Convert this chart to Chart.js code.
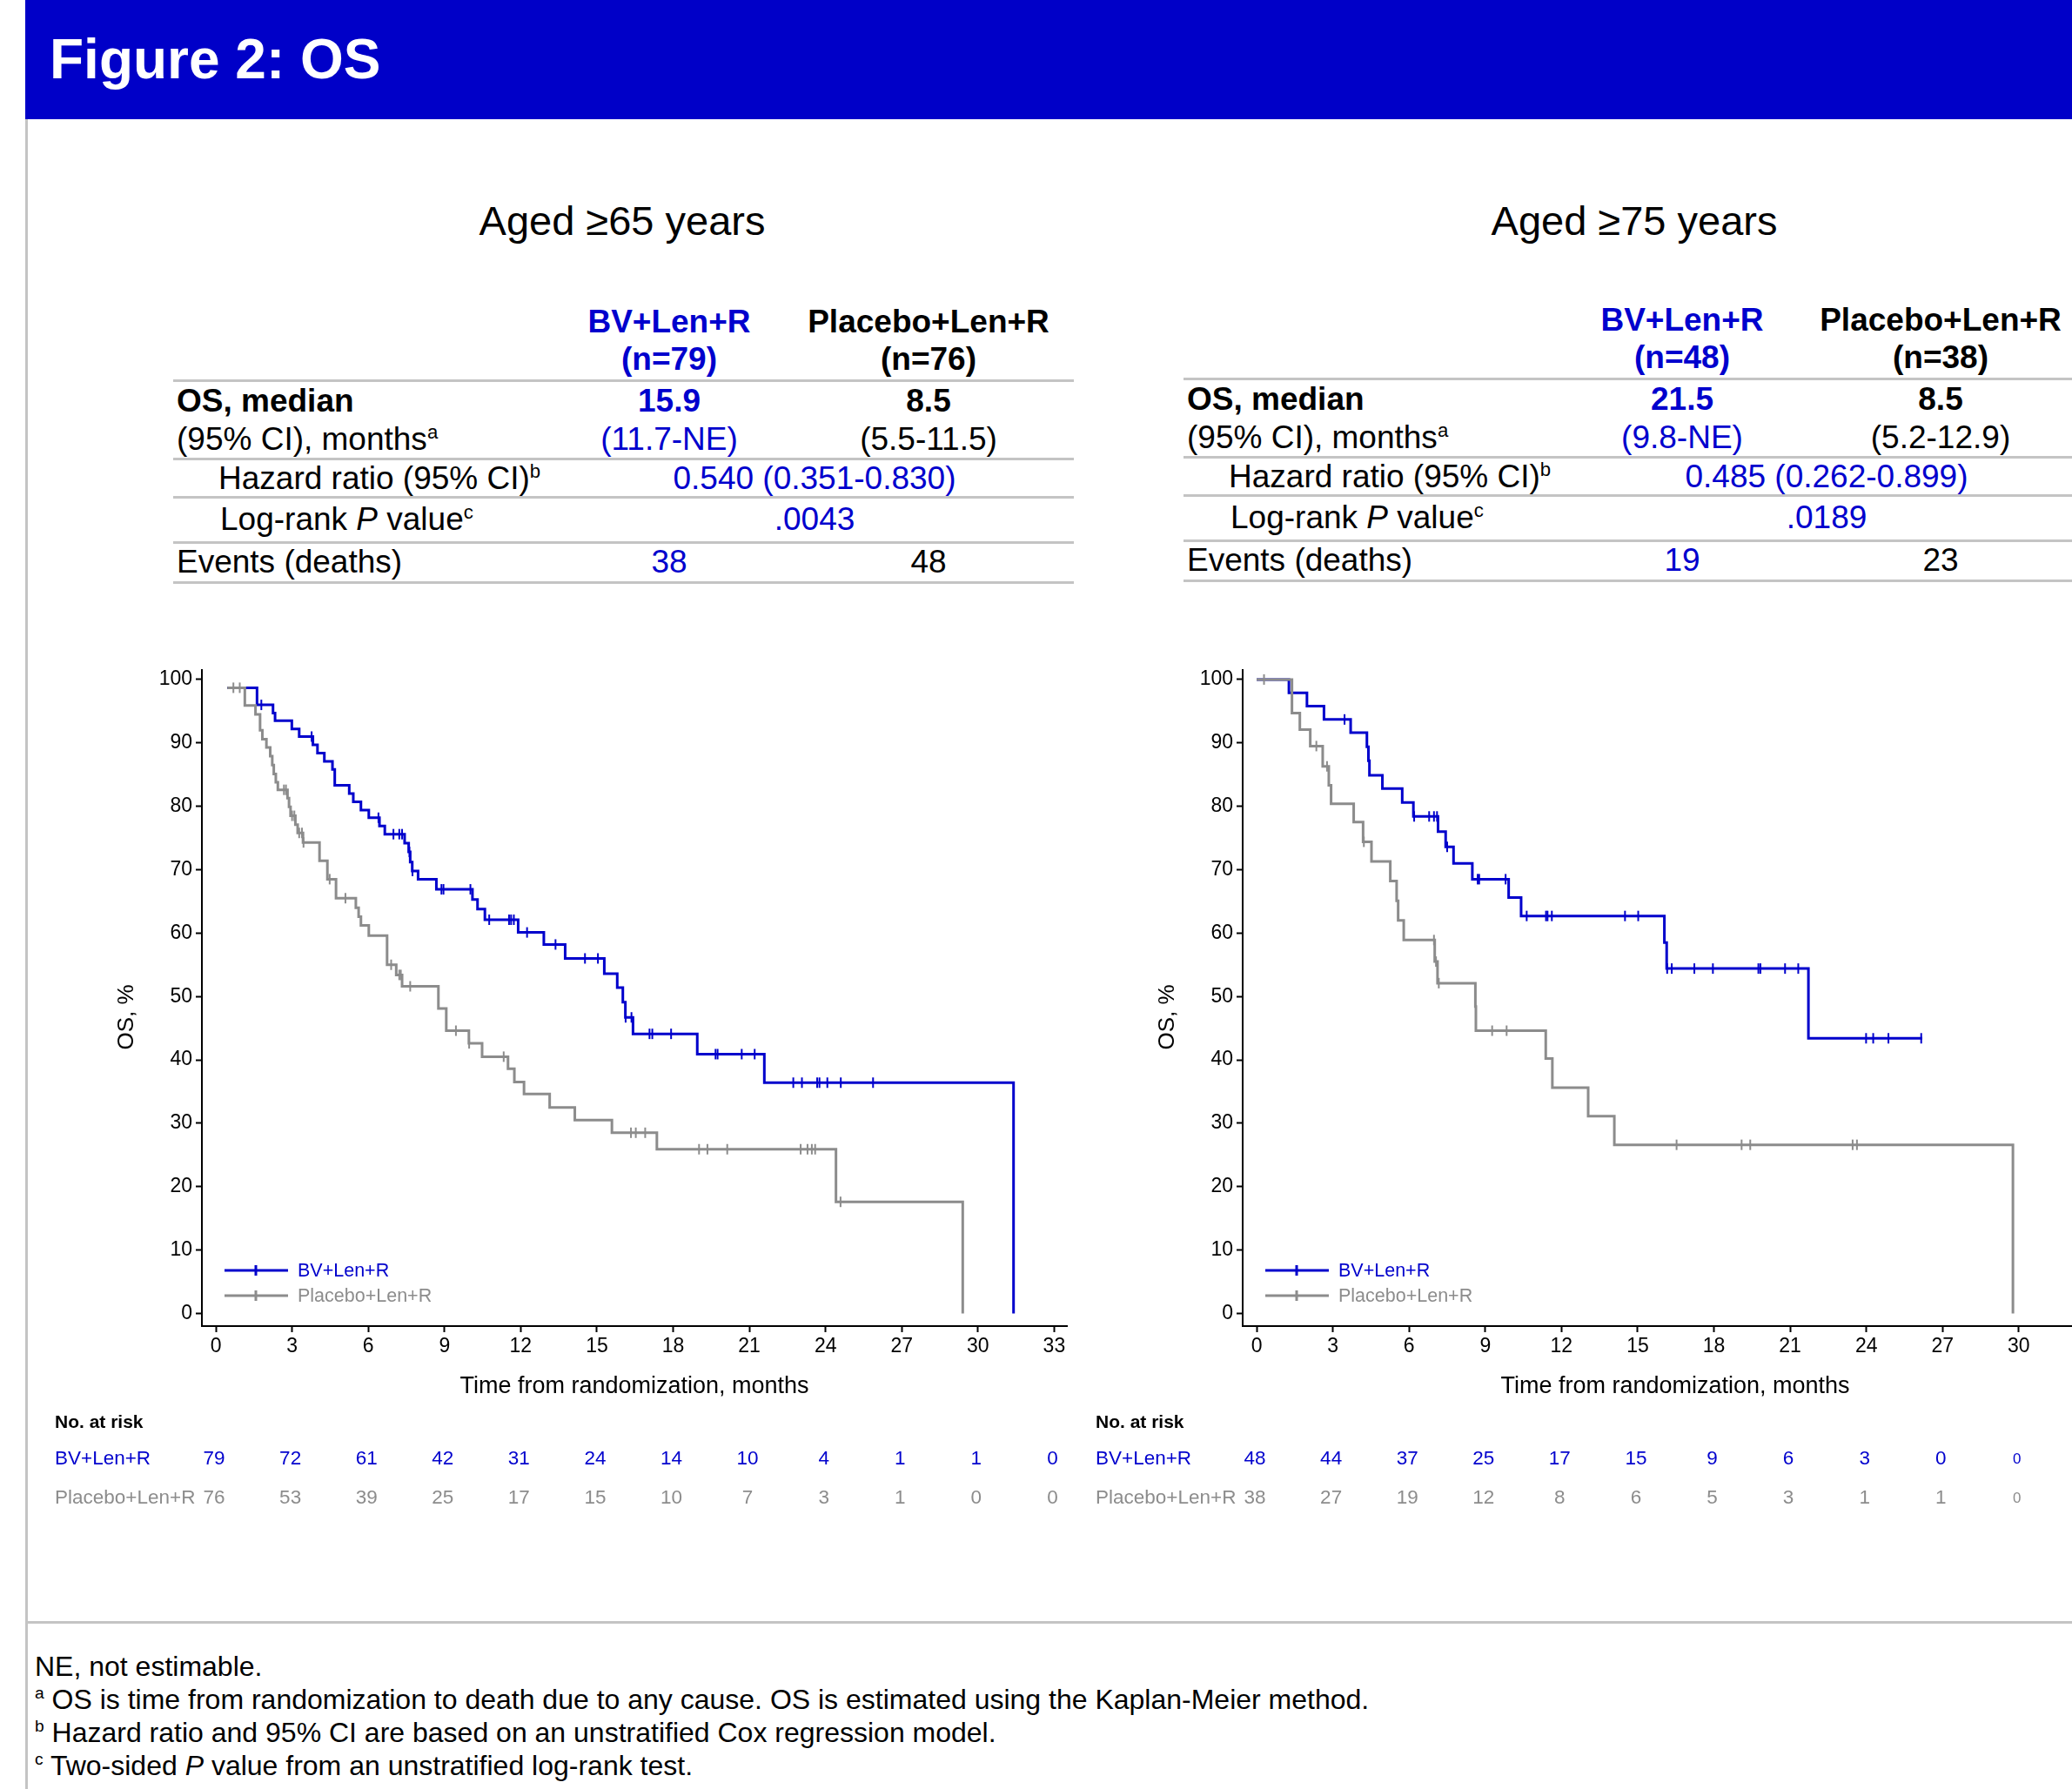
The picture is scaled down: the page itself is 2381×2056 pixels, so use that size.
<!DOCTYPE html>
<html>
<head>
<meta charset="utf-8">
<script src="https://cdn.jsdelivr.net/npm/chart.js@4.4.1/dist/chart.umd.min.js"></script>
<style>
html, body { margin: 0; padding: 0; overflow: hidden; background: #fff; }
body { width: 2381px; height: 2056px; position: relative; font-family: 'Liberation Sans', Arial, sans-serif; color: #000; }
.t { position: absolute; white-space: nowrap; line-height: 1; }
sup { font-size: 60%; vertical-align: 0.6em; line-height: 0; }
.rule { position: absolute; background: #c4c4c4; }
canvas { position: absolute; }
</style>
</head>
<body>
<div style="position:absolute;left:29px;top:0;width:2352px;height:137px;background:#0000c8"></div>
<div class="rule" style="left:29px;top:137px;width:3px;height:1919px"></div>
<div class="rule" style="left:29px;top:1863px;width:2352px;height:3px"></div>
<canvas id="c65" width="1200" height="1080" style="left:39px;top:740px"></canvas>
<canvas id="c75" width="1200" height="1080" style="left:1235px;top:740px"></canvas>
<script>
// axis ticks
const xTicks = [0, 3, 6, 9, 12, 15, 18, 21, 24, 27, 30, 33];
const yTicks = [0, 10, 20, 30, 40, 50, 60, 70, 80, 90, 100];
const riskTicks65 = [0, 3, 6, 9, 12, 15, 18, 21, 24, 27, 30, 33];
const riskTicks75 = [0, 3, 6, 9, 12, 15, 18, 21, 24, 27, 30];

// Aged >=65, BV+Len+R : step times (months) and OS % after each step
const bv65Time = [0.45, 1.62, 2.25, 2.33, 2.99, 3.28, 3.82, 4.0, 4.27, 4.59, 4.68, 5.25, 5.41, 5.71, 6.02, 6.44, 6.65, 7.43, 7.59, 7.65, 7.73, 7.96, 8.68, 10.1, 10.3, 10.59, 11.9, 12.91, 13.75, 15.29, 15.8, 16.02, 16.12, 16.42, 18.95, 21.59, 31.4];
const bv65Surv = [98.7, 96.0, 94.7, 93.5, 92.2, 91.0, 89.7, 88.4, 87.1, 85.8, 83.3, 82.0, 80.7, 79.4, 78.2, 76.9, 75.6, 74.2, 72.8, 71.2, 69.8, 68.5, 66.9, 65.3, 63.8, 62.1, 60.1, 58.2, 56.0, 53.6, 51.4, 49.1, 46.7, 44.1, 40.9, 36.4, 0];
const bv65Cens = [1.79, 3.77, 6.40, 6.99, 7.22, 7.33, 7.62, 7.74, 8.88, 8.96, 10.02, 10.76, 11.54, 11.62, 11.73, 12.25, 13.37, 14.53, 15.04, 16.13, 16.36, 17.07, 17.18, 17.92, 19.67, 19.75, 20.7, 21.21, 22.73, 23.07, 23.67, 23.76, 24.07, 24.6, 25.87];

// Aged >=65, Placebo+Len+R
const pl65Time = [0.45, 1.14, 1.56, 1.74, 1.83, 1.99, 2.14, 2.22, 2.28, 2.36, 2.44, 2.82, 2.88, 2.94, 3.13, 3.22, 3.43, 4.08, 4.39, 4.73, 5.51, 5.62, 5.71, 6.02, 6.74, 7.1, 7.33, 8.76, 9.07, 9.96, 10.48, 11.5, 11.75, 12.13, 13.14, 14.13, 15.59, 17.36, 24.41, 29.4];
const pl65Surv = [98.7, 95.9, 94.5, 92.0, 90.6, 89.3, 87.9, 86.5, 85.1, 83.8, 82.6, 81.3, 79.9, 78.5, 77.1, 75.8, 74.3, 71.4, 68.5, 65.5, 64.0, 62.6, 61.2, 59.6, 55.0, 53.4, 51.6, 48.1, 44.6, 42.6, 40.5, 38.6, 36.5, 34.6, 32.5, 30.5, 28.5, 25.9, 17.6, 0];
const pl65Cens = [0.69, 0.94, 2.68, 2.76, 3.0, 3.09, 3.28, 3.39, 3.45, 4.48, 5.1, 6.9, 7.22, 7.28, 7.65, 9.45, 9.97, 11.33, 16.34, 16.53, 16.9, 19.02, 19.35, 20.13, 23.02, 23.29, 23.46, 23.59, 24.59];

// Aged >=75, BV+Len+R
const bv75Time = [0, 1.27, 1.98, 2.65, 3.70, 4.34, 4.40, 4.44, 4.95, 5.73, 6.17, 7.14, 7.44, 7.75, 8.49, 9.92, 10.41, 16.05, 16.14, 21.72, 26.2];
const bv75Surv = [100, 97.9, 95.8, 93.7, 91.6, 89.4, 87.2, 84.9, 82.8, 80.6, 78.4, 76.0, 73.6, 71.0, 68.5, 65.6, 62.7, 58.5, 54.4, 43.4, 43.4];
const bv75Cens = [3.46, 6.2, 6.79, 6.98, 7.1, 7.5, 8.7, 8.76, 9.8, 10.63, 11.39, 11.45, 11.62, 14.5, 15.02, 16.16, 16.34, 17.23, 17.96, 19.75, 19.83, 20.8, 21.32, 23.99, 24.27, 24.87, 26.16];

// Aged >=75, Placebo+Len+R
const pl75Time = [0, 1.39, 1.70, 2.11, 2.60, 2.84, 2.93, 3.82, 4.19, 4.52, 5.26, 5.51, 5.57, 5.79, 7.01, 7.12, 8.61, 8.63, 11.38, 11.64, 13.05, 14.08, 29.77];
const pl75Surv = [100, 94.7, 92.1, 89.5, 86.3, 83.3, 80.4, 77.5, 74.4, 71.3, 68.2, 65.1, 62.0, 58.9, 55.5, 52.1, 48.4, 44.6, 40.2, 35.6, 31.1, 26.6, 0];
const pl75Cens = [0.29, 2.35, 2.77, 4.22, 6.98, 7.06, 7.17, 9.27, 9.84, 16.53, 19.09, 19.43, 23.46, 23.63];

// number at risk
const bv65Risk = [79, 72, 61, 42, 31, 24, 14, 10, 4, 1, 1, 0];
const pl65Risk = [76, 53, 39, 25, 17, 15, 10, 7, 3, 1, 0, 0];
const bv75Risk = [48, 44, 37, 25, 17, 15, 9, 6, 3, 0, 0];
const pl75Risk = [38, 27, 19, 12, 8, 6, 5, 3, 1, 1, 0];

// summary tables
const arms = ['BV+Len+R', 'Placebo+Len+R'];
const n65 = [79, 76];
const median65 = ['15.9', '8.5'];
const ci65 = ['(11.7-NE)', '(5.5-11.5)'];
const hr65 = '0.540 (0.351-0.830)';
const p65 = '.0043';
const events65 = [38, 48];
const n75 = [48, 38];
const median75 = ['21.5', '8.5'];
const ci75 = ['(9.8-NE)', '(5.2-12.9)'];
const hr75 = '0.485 (0.262-0.899)';
const p75 = '.0189';
const events75 = [19, 23];

const FONT = "'Liberation Sans', Arial, sans-serif";
const BLUE = '#0000cc';
const GRAY = '#8c8c8c';
const TXTBLUE = '#0000cd';

function txt(x, base, html, size, opt) {
  opt = opt || {};
  const d = document.createElement('div');
  d.className = 't';
  d.innerHTML = html;
  d.style.fontSize = size + 'px';
  d.style.left = x + 'px';
  d.style.top = (base - 0.8465 * size) + 'px';
  if (opt.bold) d.style.fontWeight = 'bold';
  if (opt.color) d.style.color = opt.color;
  if (opt.align === 'center') d.style.transform = 'translateX(-50%)';
  if (opt.align === 'right') d.style.transform = 'translateX(-100%)';
  document.body.appendChild(d);
}
function rule(x1, x2, y) {
  const d = document.createElement('div');
  d.className = 'rule';
  d.style.left = x1 + 'px'; d.style.width = (x2 - x1) + 'px';
  d.style.top = (y - 1.5) + 'px'; d.style.height = '3px';
  document.body.appendChild(d);
}

txt(57, 90, 'Figure 2: OS', 64, {bold: true, color: '#fff'});

function buildTable(t) {
  const fs = 37, dy = t.dy;
  txt(t.title[0], 270, t.title[1], 47, {align: 'center'});
  txt(t.c1, 382 + dy, arms[0], fs, {bold: true, color: TXTBLUE, align: 'center'});
  txt(t.c2, 382 + dy, arms[1], fs, {bold: true, align: 'center'});
  txt(t.c1, 425 + dy, '(n=' + t.n[0] + ')', fs, {bold: true, color: TXTBLUE, align: 'center'});
  txt(t.c2, 425 + dy, '(n=' + t.n[1] + ')', fs, {bold: true, align: 'center'});
  rule(t.l1, t.l2, 437 + dy);
  txt(t.lx, 473 + dy, 'OS, median', fs, {bold: true});
  txt(t.c1, 473 + dy, t.median[0], fs, {bold: true, color: TXTBLUE, align: 'center'});
  txt(t.c2, 473 + dy, t.median[1], fs, {bold: true, align: 'center'});
  txt(t.lx, 517 + dy, '(95% CI), months<sup>a</sup>', fs);
  txt(t.c1, 517 + dy, t.ci[0], fs, {color: TXTBLUE, align: 'center'});
  txt(t.c2, 517 + dy, t.ci[1], fs, {align: 'center'});
  rule(t.l1, t.l2, 527 + dy);
  txt(t.lx + 48, 562 + dy, 'Hazard ratio (95% CI)<sup>b</sup>', fs);
  txt(t.hc, 562 + dy, t.hr, fs, {color: TXTBLUE, align: 'center'});
  rule(t.l1, t.l2, 571 + dy);
  txt(t.lx + 50, 609 + dy, 'Log-rank <i>P</i> value<sup>c</sup>', fs);
  txt(t.hc, 609 + dy, t.p, fs, {color: TXTBLUE, align: 'center'});
  rule(t.l1, t.l2, 623 + dy);
  txt(t.lx, 658 + dy, 'Events (deaths)', fs);
  txt(t.c1, 658 + dy, String(t.events[0]), fs, {color: TXTBLUE, align: 'center'});
  txt(t.c2, 658 + dy, String(t.events[1]), fs, {align: 'center'});
  rule(t.l1, t.l2, 669 + dy);
}
buildTable({title: [715, 'Aged ≥65 years'], dy: 0, lx: 203, c1: 769, c2: 1067, hc: 936, l1: 199, l2: 1234,
  n: n65, median: median65, ci: ci65, hr: hr65, p: p65, events: events65});
buildTable({title: [1878, 'Aged ≥75 years'], dy: -2, lx: 1364, c1: 1933, c2: 2230, hc: 2099, l1: 1360, l2: 2381,
  n: n75, median: median75, ci: ci75, hr: hr75, p: p75, events: events75});

txt(40, 1926, 'NE, not estimable.', 32);
txt(40, 1964, '<sup>a</sup> OS is time from randomization to death due to any cause. OS is estimated using the Kaplan-Meier method.', 32);
txt(40, 2002, '<sup>b</sup> Hazard ratio and 95% CI are based on an unstratified Cox regression model.', 32);
txt(40, 2040, '<sup>c</sup> Two-sided <i>P</i> value from an unstratified log-rank test.', 32);

function stepPoints(times, surv) {
  return times.map((t, i) => ({x: t, y: surv[i]}));
}
function censorPoints(cens, times, surv) {
  return cens.map(c => {
    let v = surv[0];
    for (let i = 0; i < times.length; i++) if (times[i] <= c) v = surv[i];
    return {x: c, y: v};
  });
}

function makeExtras(cfg) {
  return {
    id: 'kmExtras',
    afterDraw(chart) {
      const ctx = chart.ctx, a = chart.chartArea, xs = chart.scales.x;
      ctx.save();
      ctx.fillStyle = '#000';
      ctx.font = '26px ' + FONT;
      ctx.textAlign = 'center';
      ctx.textBaseline = 'middle';
      ctx.translate(a.left - 86, a.top + 399);
      ctx.rotate(-Math.PI / 2);
      ctx.fillText('OS, %', 0, 0);
      ctx.restore();

      // legend inside the plot
      ctx.save();
      const items = [[arms[0], BLUE, 64], [arms[1], GRAY, 35]];
      items.forEach(([label, col, off]) => {
        const y = a.bottom - off;
        ctx.strokeStyle = col;
        ctx.lineWidth = 3;
        ctx.beginPath();
        ctx.moveTo(a.left + 26, y); ctx.lineTo(a.left + 99, y);
        ctx.moveTo(a.left + 62, y - 6); ctx.lineTo(a.left + 62, y + 6);
        ctx.stroke();
        ctx.fillStyle = col;
        ctx.font = '21.5px ' + FONT;
        ctx.textAlign = 'left';
        ctx.textBaseline = 'middle';
        ctx.fillText(label, a.left + 110, y + 1);
      });
      ctx.restore();

      // number at risk
      ctx.save();
      ctx.textBaseline = 'middle';
      ctx.textAlign = 'left';
      ctx.fillStyle = '#000';
      ctx.font = 'bold 21px ' + FONT;
      ctx.fillText('No. at risk', 24, 895);
      const rows = [[arms[0], cfg.risk[0], TXTBLUE, 937], [arms[1], cfg.risk[1], GRAY, 982]];
      rows.forEach(([label, vals, col, y]) => {
        ctx.fillStyle = col;
        ctx.textAlign = 'left';
        ctx.font = '22.5px ' + FONT;
        ctx.fillText(label, 24, y);
        ctx.textAlign = 'center';
        vals.forEach((v, i) => {
          const small = cfg.smallLast && i === vals.length - 1;
          ctx.font = (small ? '17px ' : '22.5px ') + FONT;
          ctx.fillText(String(v), xs.getPixelForValue(cfg.riskTicks[i]) - 2, y);
        });
      });
      ctx.restore();
    }
  };
}

function makeChart(id, cfg) {
  const axisCommon = {
    type: 'linear',
    grid: { drawOnChartArea: false, drawTicks: true, tickLength: 7, tickWidth: 2, tickColor: '#000', color: '#000' },
    border: { display: true, color: '#000', width: 2 },
  };
  return new Chart(document.getElementById(id), {
    type: 'line',
    data: {
      datasets: [
        { data: censorPoints(cfg.pl[2], cfg.pl[0], cfg.pl[1]), showLine: false, pointStyle: 'line', rotation: 90,
          pointRadius: 6, pointBorderWidth: 2, borderColor: GRAY, pointBorderColor: GRAY, order: 0 },
        { data: stepPoints(cfg.pl[0], cfg.pl[1]), stepped: 'before', borderColor: GRAY, borderWidth: 3,
          pointRadius: 0, fill: false, order: 1 },
        { data: censorPoints(cfg.bv[2], cfg.bv[0], cfg.bv[1]), showLine: false, pointStyle: 'line', rotation: 90,
          pointRadius: 6, pointBorderWidth: 2, borderColor: BLUE, pointBorderColor: BLUE, order: 2 },
        { data: stepPoints(cfg.bv[0], cfg.bv[1]), stepped: 'before', borderColor: BLUE, borderWidth: 3,
          pointRadius: 0, fill: false, order: 3 },
      ]
    },
    options: {
      responsive: false,
      animation: false,
      events: [],
      layout: { padding: { left: 0, top: 30, right: 13, bottom: 196 } },
      plugins: { legend: { display: false }, tooltip: { enabled: false } },
      scales: {
        x: Object.assign({}, axisCommon, {
          min: -0.55, max: 33.5,
          afterBuildTicks: s => { s.ticks = xTicks.map(v => ({value: v})); },
          afterFit: s => { s.height = 100; },
          ticks: { color: '#000', font: { size: 23, family: FONT }, padding: 3, maxRotation: 0, autoSkip: false },
          title: { display: true, text: 'Time from randomization, months', color: '#000',
                   font: { size: 27, family: FONT }, padding: { top: 0, bottom: 14 } }
        }),
        y: Object.assign({}, axisCommon, {
          min: -2, max: 101.5,
          afterBuildTicks: s => { s.ticks = yTicks.map(v => ({value: v})); },
          afterFit: s => { s.width = 193; },
          ticks: { color: '#000', font: { size: 23, family: FONT }, padding: 4 }
        })
      }
    },
    plugins: [makeExtras(cfg)]
  });
}

Chart.defaults.font.family = FONT;
makeChart('c65', { bv: [bv65Time, bv65Surv, bv65Cens], pl: [pl65Time, pl65Surv, pl65Cens],
  risk: [bv65Risk, pl65Risk], riskTicks: riskTicks65, smallLast: false });
makeChart('c75', { bv: [bv75Time, bv75Surv, bv75Cens], pl: [pl75Time, pl75Surv, pl75Cens],
  risk: [bv75Risk, pl75Risk], riskTicks: riskTicks75, smallLast: true });
</script>
</body>
</html>
